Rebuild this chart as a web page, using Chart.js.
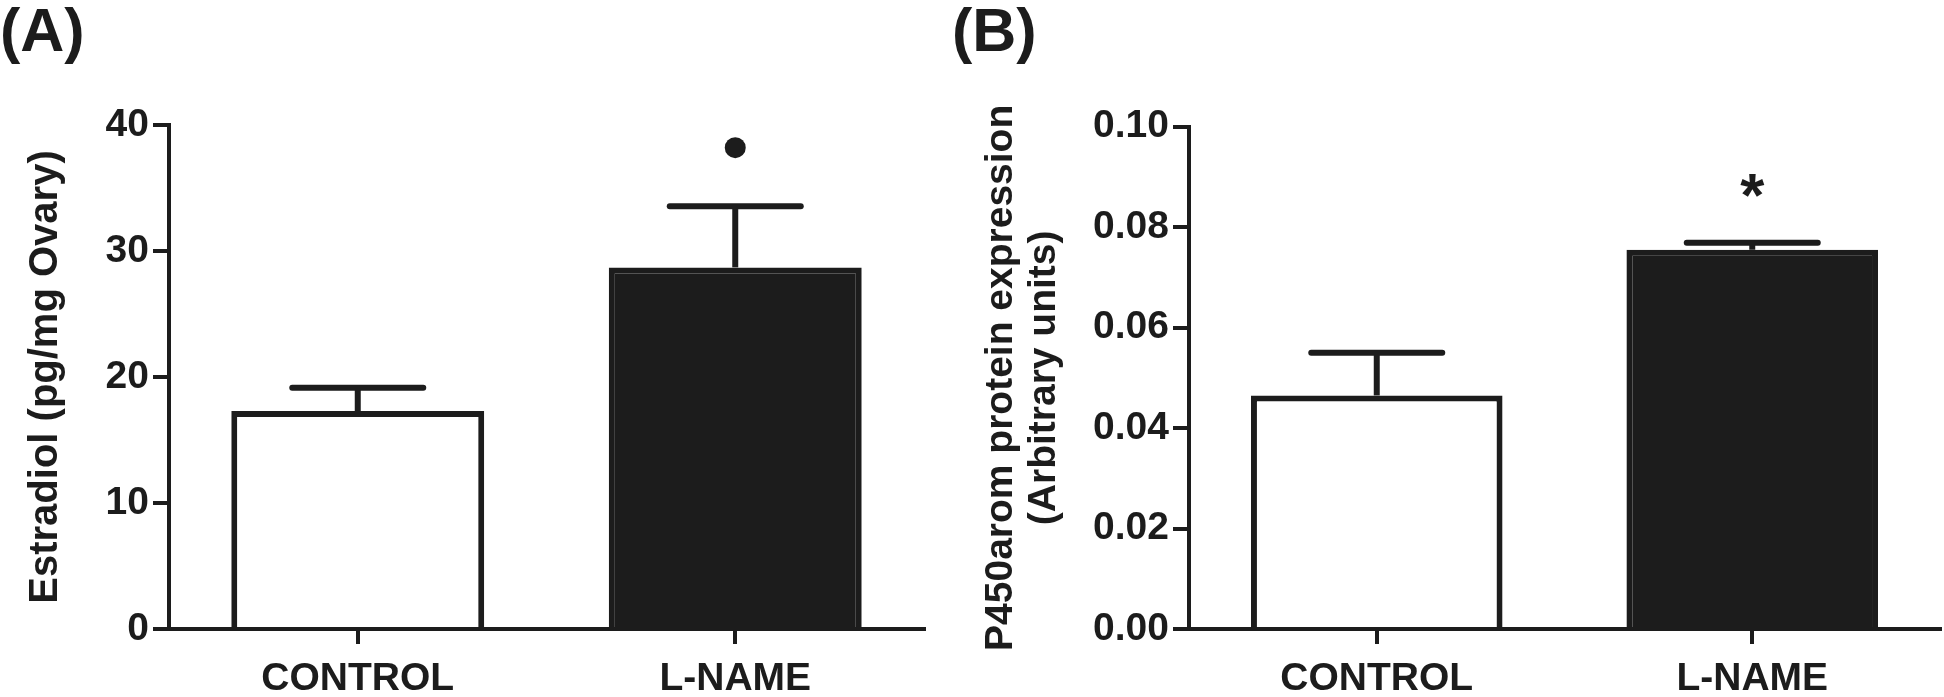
<!DOCTYPE html>
<html>
<head>
<meta charset="utf-8">
<script src="https://cdn.jsdelivr.net/npm/chart.js@4.4.1/dist/chart.umd.min.js"></script>
<style>
  html, body { margin:0; padding:0; background:#fff; }
  #wrap { position:relative; width:1944px; height:697px; overflow:hidden; }
  canvas { position:absolute; top:0; }
  #chartA { left:0; }
  #chartB { left:940px; }
</style>
</head>
<body>
<div id="wrap">
  <canvas id="chartA" width="940" height="697"></canvas>
  <canvas id="chartB" width="1004" height="697"></canvas>
</div>
<script>
// data
const categories = ['CONTROL', 'L-NAME'];

// (A) estradiol
const estradiolMean = [17.3, 28.7];
const estradiolSem  = [1.85, 4.85];
const estradiolDot  = [null, 38.2];
const estradiolTicks = [0, 10, 20, 30, 40];

// (B) P450arom
const aromMean = [0.0465, 0.0755];
const aromSem  = [0.0085, 0.0014];
const aromStar = [null, 0.0891];
const aromTicks = [0, 0.02, 0.04, 0.06, 0.08, 0.10];

const INK = '#1c1c1c';
const FONT = "'Liberation Sans', Arial, Helvetica, sans-serif";

// error bars (mean + SEM, upper only)
const errorBarPlugin = {
  id: 'errorBars',
  afterDatasetsDraw(chart, args, opts) {
    const meta = chart.getDatasetMeta(0);
    const y = chart.scales.y;
    const ctx = chart.ctx;
    ctx.save();
    ctx.strokeStyle = opts.color;
    ctx.lineWidth = opts.lineWidth;
    meta.data.forEach((bar, i) => {
      const v = chart.data.datasets[0].data[i];
      const top = y.getPixelForValue(v + opts.errors[i]);
      ctx.lineCap = 'butt';
      ctx.beginPath();
      ctx.moveTo(bar.x, bar.y);
      ctx.lineTo(bar.x, top);
      ctx.stroke();
      ctx.lineCap = 'round';
      ctx.beginPath();
      ctx.moveTo(bar.x - opts.capWidth / 2, top);
      ctx.lineTo(bar.x + opts.capWidth / 2, top);
      ctx.stroke();
    });
    ctx.restore();
  }
};

// significance asterisk
const starPlugin = {
  id: 'sigStar',
  afterDatasetsDraw(chart, args, opts) {
    if (!opts.values) return;
    const ctx = chart.ctx;
    ctx.save();
    ctx.fillStyle = INK;
    ctx.font = 'bold ' + opts.size + 'px ' + FONT;
    ctx.textAlign = 'center';
    ctx.textBaseline = 'alphabetic';
    opts.values.forEach((v, i) => {
      if (v == null) return;
      const x = chart.scales.x.getPixelForValue(i);
      const yy = chart.scales.y.getPixelForValue(v);
      ctx.fillText('*', x, yy + opts.size * 0.55);
    });
    ctx.restore();
  }
};

function makeChart(id, o) {
  const datasets = [{
    type: 'bar',
    data: o.mean,
    backgroundColor: ['#ffffff', INK],
    borderColor: INK,
    borderWidth: 6,
    borderSkipped: 'start',
    barPercentage: 0.67,
    categoryPercentage: 1.0
  }];
  if (o.dot) {
    datasets.push({
      type: 'line',
      data: o.dot,
      showLine: false,
      pointRadius: 10.5,
      pointBackgroundColor: INK,
      pointBorderWidth: 0
    });
  }
  return new Chart(document.getElementById(id), {
    type: 'bar',
    data: { labels: categories, datasets },
    plugins: [errorBarPlugin, starPlugin],
    options: {
      responsive: false,
      animation: false,
      events: [],
      layout: { padding: o.pad },
      plugins: {
        legend: { display: false },
        tooltip: { enabled: false },
        title: {
          display: true, text: o.panel, align: 'start', color: INK,
          font: { family: FONT, size: 61, weight: 'bold', lineHeight: 1 },
          padding: { top: 4, bottom: o.titleGap }
        },
        errorBars: { errors: o.sem, capWidth: 131, lineWidth: 6, color: INK },
        sigStar: { values: o.star, size: 62 }
      },
      scales: {
        x: {
          afterFit: s => { s.height = 68; },
          border: { display: true, color: INK, width: 4 },
          grid: { offset: false, drawOnChartArea: false, drawTicks: true, tickLength: 15, lineWidth: 4, color: INK },
          ticks: { color: INK, padding: 12, font: { family: FONT, size: 39, weight: 'bold' } }
        },
        y: {
          min: o.ticks[0],
          max: o.ticks[o.ticks.length - 1],
          afterFit: s => { s.width = o.yWidth; },
          afterBuildTicks: s => { s.ticks = o.ticks.map(v => ({ value: v })); },
          border: { display: true, color: INK, width: 4 },
          grid: { drawOnChartArea: false, drawTicks: true, tickLength: 16, lineWidth: 4, color: INK },
          ticks: {
            color: INK, padding: 4,
            font: { family: FONT, size: 39, weight: 'bold' },
            callback: o.fmt
          },
          title: {
            display: true, text: o.yTitle, color: INK,
            font: { family: FONT, size: o.yTitleSize, weight: 'bold', lineHeight: o.yTitleLH },
            padding: { top: o.yTitlePad, bottom: 0 }
          }
        }
      }
    }
  });
}

makeChart('chartA', {
  panel: '(A)', mean: estradiolMean, sem: estradiolSem, dot: estradiolDot, star: null,
  ticks: estradiolTicks, fmt: v => String(v),
  pad: { left: 0, right: 16, top: 0, bottom: 0 }, titleGap: 60, yWidth: 169,
  yTitle: 'Estradiol (pg/mg Ovary)', yTitleSize: 40, yTitleLH: 1.2, yTitlePad: 22
});

makeChart('chartB', {
  panel: '(B)', mean: aromMean, sem: aromSem, dot: null, star: aromStar,
  ticks: aromTicks, fmt: v => Number(v).toFixed(2),
  pad: { left: 12, right: 4, top: 0, bottom: 0 }, titleGap: 61.7, yWidth: 237,
  yTitle: ['P450arom protein expression', '(Arbitrary units)'], yTitleSize: 39, yTitleLH: 1.1, yTitlePad: 27.5
});
</script>
</body>
</html>
